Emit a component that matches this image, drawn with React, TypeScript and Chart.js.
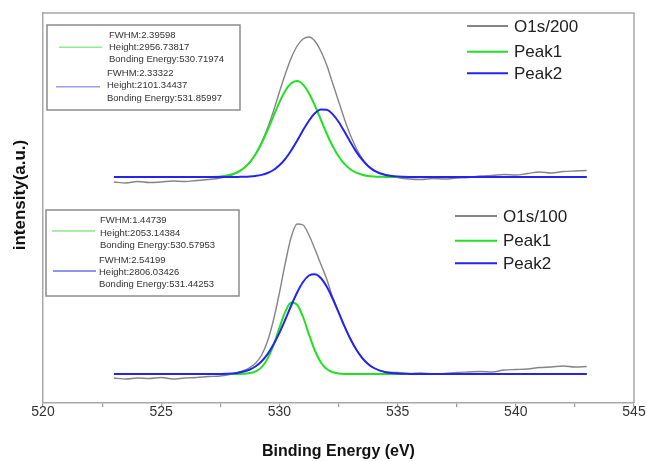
import React, { useEffect, useRef } from "react";
import { Chart, registerables } from "chart.js";

Chart.register(...registerables);

// Binding energy grid of the fitted peak curves (eV)
const peakEnergy = [523, 525, 527, 527.5, 528, 528.25, 528.5, 528.75, 529, 529.25, 529.5, 529.75, 530, 530.25, 530.5, 530.75, 531, 531.25, 531.5, 531.75, 532, 532.25, 532.5, 532.75, 533, 533.25, 533.5, 533.75, 534, 534.25, 534.5, 534.75, 535, 535.5, 536, 538, 540, 543];

// Upper panel (O1s/200) fitted peaks (arbitrary intensity units, offset stacked)
const peak1_200 = [226, 226, 226.1, 226.6, 228.7, 231.0, 234.9, 240.7, 249.0, 259.8, 272.8, 286.9, 300.7, 312.3, 319.8, 322.0, 318.4, 309.8, 297.6, 283.5, 269.5, 257.0, 246.8, 239.1, 233.8, 230.4, 228.3, 227.1, 226.5, 226.2, 226.1, 226, 226, 226, 226, 226, 226, 226];
const peak2_200 = [226, 226, 226, 226, 226, 226.1, 226.2, 226.5, 227.1, 228.1, 230.0, 233.0, 237.7, 244.2, 252.5, 262.3, 272.7, 282.3, 289.7, 293.6, 293.3, 288.9, 281.2, 271.4, 261.1, 251.4, 243.3, 237.0, 232.6, 229.7, 228.0, 227.0, 226.5, 226.1, 226, 226, 226, 226];

// Lower panel (O1s/100) fitted peaks
const peak1_100 = [29, 29, 29, 29, 29, 29.1, 29.2, 29.9, 31.6, 35.9, 44.4, 57.9, 75.1, 91.3, 100.4, 98.3, 86.0, 68.7, 52.5, 40.8, 34.0, 30.8, 29.6, 29.1, 29, 29, 29, 29, 29, 29, 29, 29, 29, 29, 29, 29, 29, 29];
const peak2_100 = [29, 29, 29, 29.1, 29.6, 30.3, 31.5, 33.5, 36.8, 41.8, 48.9, 58.4, 70.1, 83.5, 97.5, 110.5, 121.0, 127.5, 128.8, 125.0, 116.4, 104.5, 90.8, 76.9, 64.2, 53.5, 45.2, 39.1, 35.0, 32.4, 30.8, 29.9, 29.4, 29.1, 29, 29, 29, 29];

// Measured spectra
const rawEnergy = [523, 523.5, 524, 524.5, 525, 525.5, 526, 526.5, 527, 527.5, 528, 528.25, 528.5, 528.75, 529, 529.25, 529.5, 529.75, 530, 530.25, 530.5, 530.75, 531, 531.25, 531.5, 531.75, 532, 532.25, 532.5, 532.75, 533, 533.25, 533.5, 533.75, 534, 534.5, 535, 535.5, 536, 536.5, 537, 537.5, 538, 538.5, 539, 539.5, 540, 540.5, 541, 541.5, 542, 542.5, 543];
const o1s200 = [221, 220, 221.5, 220.5, 221, 222, 221.5, 222.5, 223.5, 225, 228, 231, 235, 241, 249.5, 261, 275, 292, 311, 329, 345, 357, 364, 366, 362, 352, 338, 320, 302, 284, 268, 255, 244.5, 237, 232, 228, 225.5, 224, 223.5, 224.5, 224, 225, 225.5, 227, 227.5, 228.5, 228, 229.5, 231, 230, 231.5, 232, 232.5];
const o1s100 = [25, 24, 25, 24.5, 25.5, 24, 25, 25.5, 26.5, 27, 29, 30.5, 32.5, 35.5, 40, 48, 62, 83, 110, 140, 166, 179, 178, 168, 154, 139, 124, 106, 91, 77, 64, 53.5, 45, 39, 35, 31, 30.5, 29.5, 30, 29, 29.5, 30.5, 31, 31.5, 31, 33, 33.5, 34, 35.5, 36, 37, 36, 36.5];

// Labels
const legend200 = ["O1s/200", "Peak1", "Peak2"];
const legend100 = ["O1s/100", "Peak1", "Peak2"];
const fwhm200 = ["2.39598", "2.33322"];
const height200 = ["2956.73817", "2101.34437"];
const energy200 = ["530.71974", "531.85997"];
const fwhm100 = ["1.44739", "2.54199"];
const height100 = ["2053.14384", "2806.03426"];
const energy100 = ["530.57953", "531.44253"];

const xTitle = "Binding Energy (eV)";
const yTitle = "intensity(a.u.)";
const xMin = 520;
const xMax = 545;
const xStep = 2.5;

const FONT = "'Liberation Sans', Arial, Helvetica, sans-serif";
const GREY = "#858585";
const GREEN = "#22e022";
const BLUE = "#2424ee";

const pts = (xs: number[], ys: number[]) => xs.map((x, i) => ({ x, y: ys[i] }));

function drawInset(ctx: CanvasRenderingContext2D, box: number[], entries: any[]) {
  ctx.strokeStyle = "#8c8c8c";
  ctx.lineWidth = 1.5;
  ctx.strokeRect(box[0], box[1], box[2], box[3]);
  ctx.font = `9.5px ${FONT}`;
  ctx.textBaseline = "middle";
  ctx.textAlign = "left";
  for (const e of entries) {
    ctx.strokeStyle = e.color;
    ctx.lineWidth = 1.5;
    ctx.beginPath();
    ctx.moveTo(e.lx1, e.ly);
    ctx.lineTo(e.lx2, e.ly);
    ctx.stroke();
    ctx.fillStyle = "#333";
    e.lines.forEach((t: string, i: number) => ctx.fillText(t, e.tx, e.ty + i * 12.2));
  }
}

function drawLegend(ctx: CanvasRenderingContext2D, x1: number, x2: number, tx: number, ys: number[], names: string[]) {
  const colors = [GREY, GREEN, BLUE];
  ctx.font = `17px ${FONT}`;
  ctx.textBaseline = "middle";
  ctx.textAlign = "left";
  names.forEach((n, i) => {
    ctx.strokeStyle = colors[i];
    ctx.lineWidth = 2;
    ctx.beginPath();
    ctx.moveTo(x1, ys[i]);
    ctx.lineTo(x2, ys[i]);
    ctx.stroke();
    ctx.fillStyle = "#222";
    ctx.fillText(n, tx, ys[i] + 1);
  });
}

const overlay = {
  id: "overlay",
  afterDraw(chart: any) {
    const ctx = chart.ctx as CanvasRenderingContext2D;
    const a = chart.chartArea;
    ctx.save();
    ctx.strokeStyle = "#a8a8a8";
    ctx.lineWidth = 1.5;
    ctx.beginPath();
    ctx.moveTo(a.left, a.top);
    ctx.lineTo(a.right, a.top);
    ctx.lineTo(a.right, a.bottom);
    ctx.stroke();

    // y-axis title
    ctx.save();
    ctx.translate(20, 195);
    ctx.rotate(-Math.PI / 2);
    ctx.font = `bold 17px ${FONT}`;
    ctx.fillStyle = "#111";
    ctx.textAlign = "center";
    ctx.textBaseline = "middle";
    ctx.fillText(yTitle, 0, 0);
    ctx.restore();

    drawInset(ctx, [47, 25, 193, 85], [
      { color: "#8fe98f", lx1: 59, lx2: 102, ly: 47.3, tx: 109, ty: 35, lines: [`FWHM:${fwhm200[0]}`, `Height:${height200[0]}`, `Bonding Energy:${energy200[0]}`] },
      { color: "#9d9df5", lx1: 56, lx2: 100, ly: 86.7, tx: 107, ty: 73.5, lines: [`FWHM:${fwhm200[1]}`, `Height:${height200[1]}`, `Bonding Energy:${energy200[1]}`] },
    ]);
    drawInset(ctx, [46, 210, 193, 86], [
      { color: "#8fe98f", lx1: 52, lx2: 95, ly: 231, tx: 100, ty: 220.7, lines: [`FWHM:${fwhm100[0]}`, `Height:${height100[0]}`, `Bonding Energy:${energy100[0]}`] },
      { color: "#6f6fec", lx1: 53, lx2: 96, ly: 271, tx: 99, ty: 260, lines: [`FWHM:${fwhm100[1]}`, `Height:${height100[1]}`, `Bonding Energy:${energy100[1]}`] },
    ]);
    drawLegend(ctx, 467, 508, 514, [26, 51.7, 73.3], legend200);
    drawLegend(ctx, 455, 497, 503, [216, 240.7, 263.3], legend100);
    ctx.restore();
  },
};

export default function App() {
  const ref = useRef<HTMLCanvasElement | null>(null);
  useEffect(() => {
    if (!ref.current) return;
    const line = (data: any, color: string, width: number, order: number) => ({
      data,
      borderColor: color,
      borderWidth: width,
      pointRadius: 0,
      fill: false,
      cubicInterpolationMode: "monotone" as const,
      order,
    });
    const chart = new Chart(ref.current, {
      type: "line",
      data: {
        datasets: [
          { label: legend200[0], ...line(pts(rawEnergy, o1s200), GREY, 1.4, 3) },
          { label: legend200[1], ...line(pts(peakEnergy, peak1_200), GREEN, 2, 2) },
          { label: legend200[2], ...line(pts(peakEnergy, peak2_200), BLUE, 2, 1) },
          { label: legend100[0], ...line(pts(rawEnergy, o1s100), GREY, 1.4, 3) },
          { label: legend100[1], ...line(pts(peakEnergy, peak1_100), GREEN, 2, 2) },
          { label: legend100[2], ...line(pts(peakEnergy, peak2_100), BLUE, 2, 1) },
        ],
      },
      options: {
        responsive: false,
        animation: false,
        events: [],
        layout: { padding: { top: 13, right: 13, left: 0, bottom: 0 } },
        plugins: { legend: { display: false }, tooltip: { enabled: false } },
        scales: {
          x: {
            type: "linear",
            min: xMin,
            max: xMax,
            ticks: {
              stepSize: xStep,
              autoSkip: false,
              maxRotation: 0,
              padding: -3,
              color: "#333",
              font: { family: FONT, size: 14 },
              callback: (v: any) => (Number(v) % 5 === 0 ? String(v) : ""),
            },
            grid: { display: true, drawOnChartArea: false, drawTicks: true, tickLength: 4, color: "#9a9a9a", lineWidth: 1.2 },
            border: { display: true, color: "#a8a8a8", width: 1.5 },
            title: { display: true, text: xTitle, color: "#111", font: { family: FONT, size: 16, weight: "bold" }, padding: { top: 0, bottom: 0 } },
            afterFit: (s: any) => { s.height = 58; },
          },
          y: {
            type: "linear",
            min: 0,
            max: 390,
            ticks: { display: false },
            grid: { display: false, drawTicks: false },
            border: { display: true, color: "#a8a8a8", width: 1.5 },
            title: { display: false },
            afterFit: (s: any) => { s.width = 43; },
          },
        },
      },
      plugins: [overlay],
    });
    return () => chart.destroy();
  }, []);
  return (
    <div style={{ position: "fixed", left: 0, top: 0, width: 647, height: 461, background: "#fff" }}>
      <canvas ref={ref} width={647} height={461} />
    </div>
  );
}
